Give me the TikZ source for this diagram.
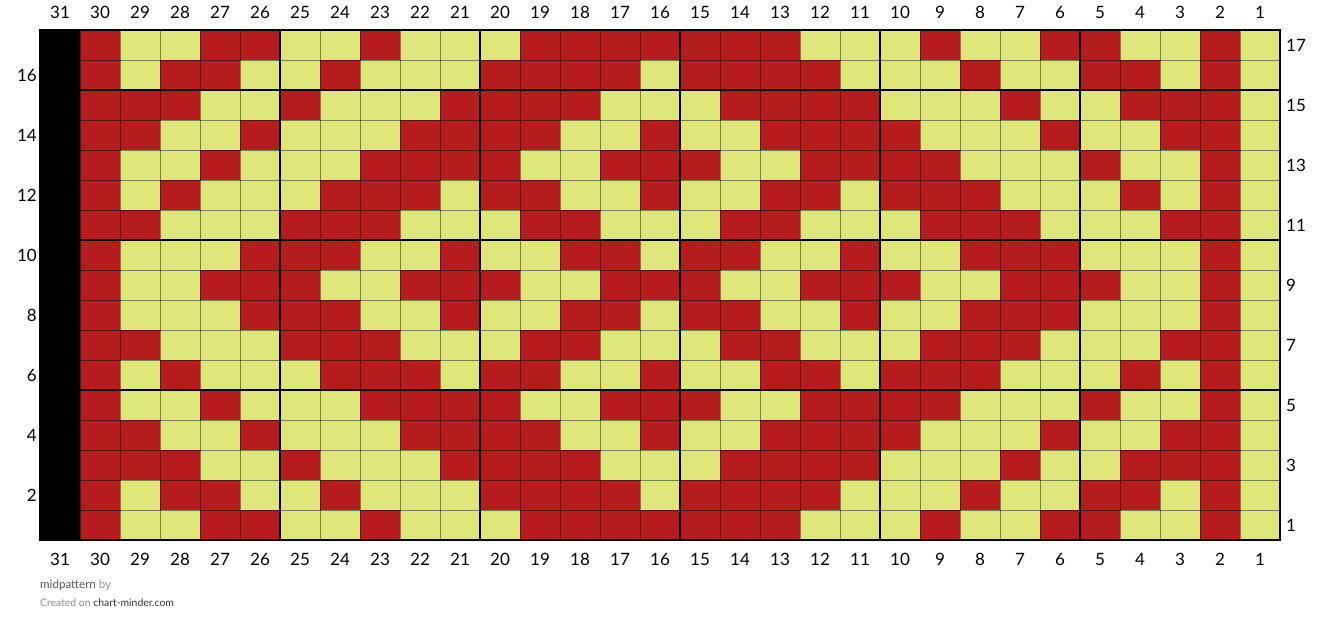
\documentclass[tikz,border=0pt]{standalone}
\usepackage{fontspec}
\setmainfont{Lato}
\usepackage{xcolor}
\usepackage{tikz}
\definecolor{R}{RGB}{180,28,30}
\definecolor{Y}{RGB}{222,230,122}

\begin{document}
\begin{tikzpicture}[
  x=1pt, y=-1pt,
  num/.style={font=\fontsize{17}{20}\selectfont, inner sep=0pt},
  gridline/.style={draw=black, draw opacity=0.45, line width=0.8pt},
  blockline/.style={draw=black, line width=2pt},
  foot/.style={anchor=west, inner sep=0pt}
]
\useasboundingbox (0,0) rectangle (1320,633);
% stitches, columns 30 down to 1 (rows mirror around row 9)
\foreach \ra/\rb/\pat in {
  17/1/{R,Y,Y,R,R,Y,Y,R,Y,Y,Y,R,R,R,R,R,R,R,Y,Y,Y,R,Y,Y,R,R,Y,Y,R,Y},
  16/2/{R,Y,R,R,Y,Y,R,Y,Y,Y,R,R,R,R,Y,R,R,R,R,Y,Y,Y,R,Y,Y,R,R,Y,R,Y},
  15/3/{R,R,R,Y,Y,R,Y,Y,Y,R,R,R,R,Y,Y,Y,R,R,R,R,Y,Y,Y,R,Y,Y,R,R,R,Y},
  14/4/{R,R,Y,Y,R,Y,Y,Y,R,R,R,R,Y,Y,R,Y,Y,R,R,R,R,Y,Y,Y,R,Y,Y,R,R,Y},
  13/5/{R,Y,Y,R,Y,Y,Y,R,R,R,R,Y,Y,R,R,R,Y,Y,R,R,R,R,Y,Y,Y,R,Y,Y,R,Y},
  12/6/{R,Y,R,Y,Y,Y,R,R,R,Y,R,R,Y,Y,R,Y,Y,R,R,Y,R,R,R,Y,Y,Y,R,Y,R,Y},
  11/7/{R,R,Y,Y,Y,R,R,R,Y,Y,Y,R,R,Y,Y,Y,R,R,Y,Y,Y,R,R,R,Y,Y,Y,R,R,Y},
  10/8/{R,Y,Y,Y,R,R,R,Y,Y,R,Y,Y,R,R,Y,R,R,Y,Y,R,Y,Y,R,R,R,Y,Y,Y,R,Y},
  9/9/{R,Y,Y,R,R,R,Y,Y,R,R,R,Y,Y,R,R,R,Y,Y,R,R,R,Y,Y,R,R,R,Y,Y,R,Y}} {
  \foreach \c [count=\i] in \pat {
    \fill[\c] ({40+40*\i},{30+30*(17-\ra)}) rectangle +(40,30);
    \fill[\c] ({40+40*\i},{30+30*(17-\rb)}) rectangle +(40,30);
  }
}
% thin grid
\foreach \i in {1,...,30}
  \draw[gridline] ({40+40*\i},30) -- ({40+40*\i},540);
\foreach \j in {1,...,16}
  \draw[gridline] (80,{30+30*\j}) -- (1280,{30+30*\j});
% column 31 and block lines
\fill[black] (40,30) rectangle (80,540);
\foreach \x in {280,480,680,880,1080}
  \draw[blockline] (\x,30) -- (\x,540);
\foreach \y in {90,240,390}
  \draw[blockline] (40,\y) -- (1280,\y);
\draw[blockline] (40,30) rectangle (1280,540);
% column numbers
\foreach \k in {1,...,31} {
  \node[num] (top\k) at ({60+40*(31-\k)},12) {\k};
  \node[num] (bot\k) at ({60+40*(31-\k)},559) {\k};
}
% row numbers
\foreach \r in {2,4,...,16}
  \node[num, anchor=east] (left\r) at (37,{45+30*(17-\r)}) {\r};
\foreach \r in {1,3,...,17}
  \node[num, anchor=west] (right\r) at (1286,{45+30*(17-\r)}) {\r};
% footer
\node[foot, font=\fontsize{11.6}{13}\selectfont, text=black!65] (title) at (40,585)
  {midpattern \textcolor{black!40}{by}};
\node[foot, font=\fontsize{10.4}{12}\selectfont, text=black!45] (credit) at (40,603)
  {Created on \textcolor{black!80}{chart-minder.com}};
\end{tikzpicture}
\end{document}
